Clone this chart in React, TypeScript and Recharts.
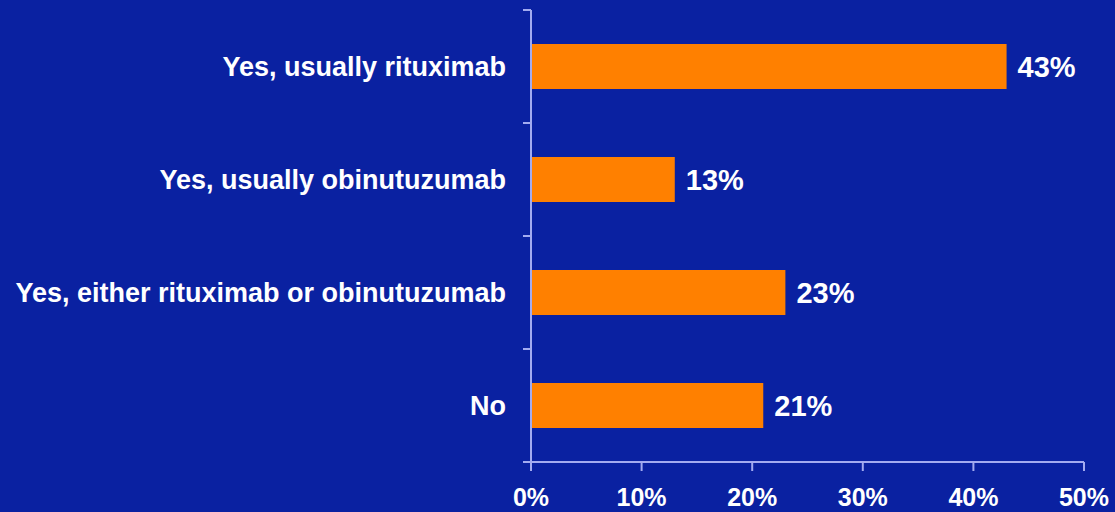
import { BarChart, Bar, XAxis, YAxis, LabelList } from 'recharts';

const categories = [
  'Yes, usually rituximab',
  'Yes, usually obinutuzumab',
  'Yes, either rituximab or obinutuzumab',
  'No',
];
const shares = [43, 13, 23, 21];
const xTicks = [0, 10, 20, 30, 40, 50];

const BG = '#0a21a1';
const ORANGE = '#ff8000';
const AXIS = '#a3abf0';
const FONT = '"Liberation Sans", Arial, sans-serif';

const data = categories.map((name, i) => ({ name, value: shares[i] }));

// category label plus a tick mark on each band edge (like the original slide)
function CategoryTick(props: any) {
  const { x, y, payload, index, visibleTicksCount } = props;
  const half = payload && typeof payload.offset === 'number' && payload.offset > 0 ? payload.offset : 56.5;
  const axisX = x + 25;
  return (
    <g>
      <line x1={axisX - 8} x2={axisX} y1={y - half} y2={y - half} stroke={AXIS} strokeWidth={2} />
      {index === visibleTicksCount - 1 && (
        <line x1={axisX - 8} x2={axisX} y1={y + half} y2={y + half} stroke={AXIS} strokeWidth={2} />
      )}
      <text x={x} y={y} dy="0.35em" textAnchor="end" fill="#ffffff" fontSize={27} fontWeight="bold" fontFamily={FONT}>
        {payload.value}
      </text>
    </g>
  );
}

export default function App() {
  return (
    <div style={{ position: 'absolute', left: 0, top: 0, width: 1115, height: 512, background: BG }}>
      <BarChart
        width={1115}
        height={512}
        data={data}
        layout="vertical"
        margin={{ top: 10, right: 31, bottom: 0, left: 0 }}
      >
        <XAxis
          type="number"
          domain={[0, 50]}
          ticks={xTicks}
          tickFormatter={(v: number) => `${v}%`}
          height={50}
          stroke={AXIS}
          strokeWidth={2}
          tickSize={9}
          tickMargin={17}
          tick={{ fill: '#ffffff', fontSize: 25, fontWeight: 'bold', fontFamily: FONT }}
        />
        <YAxis
          type="category"
          dataKey="name"
          width={531}
          stroke={AXIS}
          strokeWidth={2}
          tickLine={false}
          tickSize={0}
          tickMargin={25}
          interval={0}
          tick={<CategoryTick />}
        />
        <Bar dataKey="value" fill={ORANGE} barSize={45} isAnimationActive={false}>
          <LabelList
            dataKey="value"
            position="right"
            offset={11}
            formatter={(v: any) => `${v}%`}
            fill="#ffffff"
            fontSize={29}
            fontWeight="bold"
            fontFamily={FONT}
          />
        </Bar>
      </BarChart>
    </div>
  );
}
